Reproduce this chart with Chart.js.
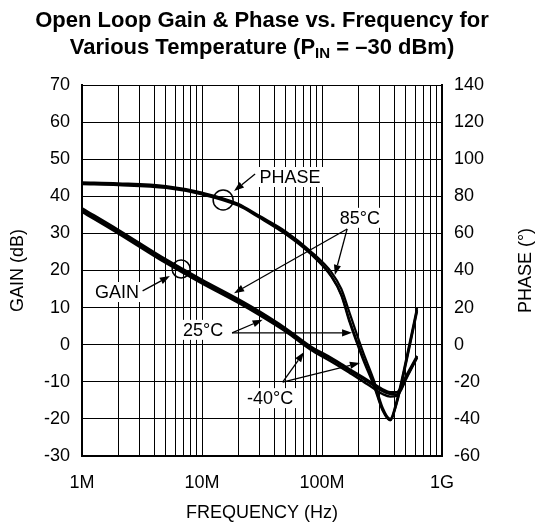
<!DOCTYPE html>
<html>
<head>
<meta charset="utf-8">
<script src="https://cdn.jsdelivr.net/npm/chart.js@4.4.0/dist/chart.umd.min.js"></script>
<style>
  html, body { margin: 0; padding: 0; background: #fff; }
  canvas { display: block; }
</style>
</head>
<body>
<canvas id="gainPhaseChart" width="540" height="529"></canvas>
<script>
const freq = [1e6, 2e6, 5e6, 1e7, 2e7, 3e7, 5e7, 8e7, 1.2e8, 1.45e8, 1.7e8, 2.2e8, 2.7e8, 3.2e8, 3.7e8, 4.2e8, 5.1e8, 6.2e8];

// Open loop gain (dB), left axis
const gain85  = [35.8, 30.0, 22.0, 16.5, 11.3, 8.0, 3.5, -1.3, -4.6, -6.2, -7.6, -9.9, -11.8, -13.3, -14.0, -13.8, -8.8, -3.5];
const gain25  = [36.3, 30.5, 22.5, 17.0, 11.8, 8.5, 4.0, -0.8, -4.0, -5.6, -7.0, -9.2, -11.0, -12.5, -13.3, -13.4, -8.5, -3.3];
const gainM40 = [36.8, 31.0, 23.0, 17.5, 12.3, 9.0, 4.4, -0.4, -3.6, -5.2, -6.6, -8.8, -10.6, -12.0, -12.8, -12.8, -8.0, -3.0];

// Phase (degrees), right axis
const phase85  = [87.5, 87, 85.5, 82, 76, 69.5, 61, 50.5, 39, 30, 17, -4, -19, -34, -40, -30, -6, 20];
const phase25  = [87, 86.5, 85, 81.5, 75.5, 69, 60, 49.5, 37, 27, 13, -7, -21, -35, -40.6, -31, -7, 19];
const phaseM40 = [86.5, 86, 84.5, 81, 75, 68.5, 59.5, 49, 36.5, 26.5, 12, -8, -22, -35.5, -40.8, -31.5, -8, 18];

// Axis ticks
const xTickValues = [1e6, 1e7, 1e8, 1e9];
const xTickLabels = ['1M', '10M', '100M', '1G'];
const xMinorMult = [2, 3, 4, 5, 6, 7, 8, 9];

// Title and right axis title
const titleLine1 = 'Open Loop Gain & Phase vs. Frequency for';
const titleLine2 = ['Various Temperature (P', 'IN', ' = \u201330 dBm)'];
const phaseAxisTitle = 'PHASE (\u00B0)';

// Callouts, in (frequency, gain dB) coordinates
const noteText = ['PHASE', 'GAIN', '85\u00B0C', '25\u00B0C', '-40\u00B0C'];
const noteFreq = [54e6, 1.96e6, 207e6, 10.2e6, 36.9e6];
const noteGain = [45.2, 14.2, 34.2, 4.0, -14.4];

// [fromFreq, fromGain, toFreq, toGain]
const arrows = [
    [27.7e6, 46.0, 18.5e6, 41.4],
    [3.2e6, 14.5, 5.4e6, 18.5],
    [162e6, 31.2, 128e6, 18.8],
    [162e6, 31.2, 18.5e6, 13.9],
    [17.8e6, 3.2, 32e6, 6.7],
    [17.8e6, 3.2, 178e6, 3.2],
    [47e6, -10.1, 70.8e6, -2.0],
    [47e6, -10.1, 207e6, -4.9]
];

// Circles marking which curve is which: [freq, gain, radius]
const circles = [
    [15e6, 39.0, 10],
    [6.7e6, 20.4, 9]
];

const FONT = '"Liberation Sans", Arial, Helvetica, sans-serif';

function series(values, axis, width) {
    return {
        data: freq.map((f, i) => ({ x: f, y: values[i] })),
        yAxisID: axis,
        borderColor: '#000',
        borderWidth: width,
        pointRadius: 0,
        fill: false,
        cubicInterpolationMode: 'monotone'
    };
}

// Draws the two-line title (second line has a subscript) and the right axis title
const titlePlugin = {
    id: 'titleText',
    afterDraw(chart) {
        const ctx = chart.ctx;
        const area = chart.chartArea;
        const cx = (area.left + area.right) / 2;
        ctx.save();
        ctx.fillStyle = '#000';
        ctx.textBaseline = 'alphabetic';
        ctx.font = 'bold 22px ' + FONT;
        ctx.textAlign = 'center';
        ctx.fillText(titleLine1, cx, 27);

        ctx.textAlign = 'left';
        const mainFont = 'bold 22px ' + FONT;
        const subFont = 'bold 15px ' + FONT;
        ctx.font = mainFont;
        const wa = ctx.measureText(titleLine2[0]).width;
        const wc = ctx.measureText(titleLine2[2]).width;
        ctx.font = subFont;
        const wb = ctx.measureText(titleLine2[1]).width;
        let x = cx - (wa + wb + wc) / 2;
        ctx.font = mainFont;
        ctx.fillText(titleLine2[0], x, 54);
        x += wa;
        ctx.font = subFont;
        ctx.fillText(titleLine2[1], x, 58);
        x += wb;
        ctx.font = mainFont;
        ctx.fillText(titleLine2[2], x, 54);

        // right axis title reads bottom to top, like the left one
        ctx.translate(chart.width - 14, (area.top + area.bottom) / 2);
        ctx.rotate(-Math.PI / 2);
        ctx.font = '18px ' + FONT;
        ctx.textAlign = 'center';
        ctx.textBaseline = 'middle';
        ctx.fillText(phaseAxisTitle, 0, 0);
        ctx.restore();
    }
};

// Callout labels, arrows and circles
const calloutPlugin = {
    id: 'callouts',
    afterDatasetsDraw(chart) {
        const ctx = chart.ctx;
        const sx = chart.scales.x;
        const sy = chart.scales.y;
        ctx.save();
        ctx.strokeStyle = '#000';
        ctx.fillStyle = '#000';

        // circles
        ctx.lineWidth = 1.5;
        circles.forEach(c => {
            ctx.beginPath();
            ctx.arc(sx.getPixelForValue(c[0]), sy.getPixelForValue(c[1]), c[2], 0, Math.PI * 2);
            ctx.stroke();
        });

        // labels on a white patch so the grid does not run through them
        ctx.font = '18px ' + FONT;
        ctx.textAlign = 'center';
        ctx.textBaseline = 'middle';
        noteText.forEach((t, i) => {
            const x = sx.getPixelForValue(noteFreq[i]);
            const y = sy.getPixelForValue(noteGain[i]);
            const w = ctx.measureText(t).width;
            ctx.fillStyle = '#fff';
            ctx.fillRect(x - w / 2 - 3, y - 10, w + 6, 20);
            ctx.fillStyle = '#000';
            ctx.fillText(t, x, y + 1);
        });

        // arrows
        ctx.lineWidth = 1.3;
        arrows.forEach(a => {
            const x0 = sx.getPixelForValue(a[0]);
            const y0 = sy.getPixelForValue(a[1]);
            const x1 = sx.getPixelForValue(a[2]);
            const y1 = sy.getPixelForValue(a[3]);
            const ang = Math.atan2(y1 - y0, x1 - x0);
            const len = 10, half = 3.6;
            const bx = x1 - len * Math.cos(ang);
            const by = y1 - len * Math.sin(ang);
            ctx.beginPath();
            ctx.moveTo(x0, y0);
            ctx.lineTo(bx, by);
            ctx.stroke();
            ctx.beginPath();
            ctx.moveTo(x1, y1);
            ctx.lineTo(bx + half * Math.sin(ang), by - half * Math.cos(ang));
            ctx.lineTo(bx - half * Math.sin(ang), by + half * Math.cos(ang));
            ctx.closePath();
            ctx.fill();
        });
        ctx.restore();
    }
};

const tickFont = { family: FONT, size: 18 };

const ctx = document.getElementById('gainPhaseChart').getContext('2d');
const chart = new Chart(ctx, {
    type: 'line',
    data: {
        datasets: [
            series(gain85, 'y', 2.4),
            series(gain25, 'y', 2.4),
            series(gainM40, 'y', 2.4),
            series(phase85, 'y2', 2.2),
            series(phase25, 'y2', 2.2),
            series(phaseM40, 'y2', 2.2)
        ]
    },
    options: {
        responsive: false,
        animation: false,
        events: [],
        layout: { padding: { top: 85, left: 0, right: 0, bottom: 0 } },
        plugins: {
            legend: { display: false },
            tooltip: { enabled: false }
        },
        scales: {
            x: {
                type: 'logarithmic',
                min: 1e6,
                max: 1e9,
                afterBuildTicks: scale => {
                    const ticks = [];
                    xTickValues.slice(0, 3).forEach(d => {
                        ticks.push({ value: d });
                        xMinorMult.forEach(m => ticks.push({ value: d * m }));
                    });
                    ticks.push({ value: xTickValues[3] });
                    scale.ticks = ticks;
                },
                afterFit: scale => { scale.height = 73; },
                ticks: {
                    autoSkip: false,
                    maxRotation: 0,
                    padding: 16,
                    color: '#000',
                    font: tickFont,
                    callback: value => {
                        const i = xTickValues.findIndex(v => Math.abs(v - value) < v * 1e-6);
                        return i >= 0 ? xTickLabels[i] : '';
                    }
                },
                grid: { color: '#000', lineWidth: 1, drawTicks: false },
                border: { color: '#000', width: 2 },
                title: {
                    display: true,
                    text: 'FREQUENCY (Hz)',
                    color: '#000',
                    font: { family: FONT, size: 18 },
                    padding: { top: 0, bottom: 5 }
                }
            },
            y: {
                position: 'left',
                min: -30,
                max: 70,
                afterFit: scale => { scale.width = 82; },
                ticks: { stepSize: 10, padding: 12, color: '#000', font: tickFont },
                grid: { color: '#000', lineWidth: 1, drawTicks: false },
                border: { color: '#000', width: 2 },
                title: {
                    display: true,
                    text: 'GAIN (dB)',
                    color: '#000',
                    font: { family: FONT, size: 18 },
                    padding: { top: 7, bottom: 0 }
                }
            },
            y2: {
                position: 'right',
                min: -60,
                max: 140,
                afterFit: scale => { scale.width = 98; },
                ticks: { stepSize: 20, padding: 12, color: '#000', font: tickFont },
                grid: { display: false, drawTicks: false },
                border: { color: '#000', width: 2 },
                title: { display: false }
            }
        }
    },
    plugins: [titlePlugin, calloutPlugin]
});
</script>
</body>
</html>
